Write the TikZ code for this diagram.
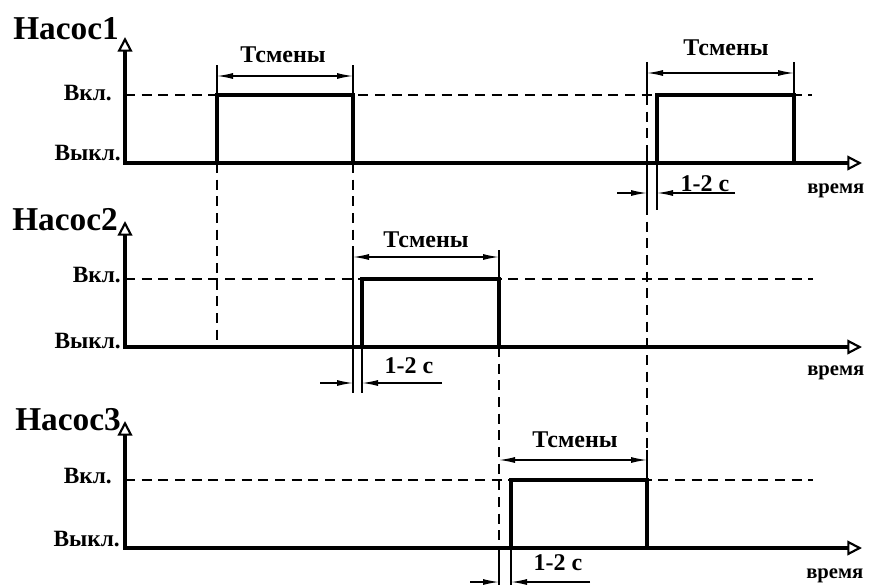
\documentclass[tikz,border=0pt]{standalone}
\usepackage{fontspec}
\setmainfont{Liberation Serif}
\usetikzlibrary{arrows.meta}
\begin{document}
\begin{tikzpicture}[x=0.75pt,y=-0.75pt,
 axis/.style={line width=2.5pt,{Triangle[open,length=11pt,width=11pt,line width=1.6pt]}-{Triangle[open,length=11pt,width=11pt,line width=1.6pt]}},
 pulse/.style={line width=2.5pt,line join=miter},
 guide/.style={line width=1.2pt,dash pattern=on 7.5pt off 5pt},
 ext/.style={line width=1pt},
 dimarrow/.style={line width=1pt,{Latex[length=12pt,width=4.5pt]}-{Latex[length=12pt,width=4.5pt]}},
 tipline/.style={line width=1pt,-{Latex[length=12pt,width=4.5pt]}},
 title/.style={font=\bfseries\fontsize{25}{25}\selectfont,inner sep=0pt},
 lvl/.style={font=\bfseries\fontsize{17.5}{17.5}\selectfont,inner sep=0pt},
 tm/.style={font=\bfseries\fontsize{15.5}{15.5}\selectfont,inner sep=0pt},
 tlab/.style={font=\bfseries\fontsize{18}{18}\selectfont,inner sep=0pt},
]
\useasboundingbox (0,0) rectangle (874,585);

% ---------------- Panel 1 ----------------
\coordinate (y1) at (125,37);
\coordinate (o1) at (125,163);
\coordinate (t1) at (862,163);
\draw[axis] (y1) -- (o1) -- (t1);
\coordinate (l1a) at (125,95);
\coordinate (l1b) at (812,95);
\draw[guide] (l1a) -- (l1b);
\node[title,anchor=base west] (n1) at (13,40) {Насос1};
\node[lvl,anchor=base east] (on1) at (112,100) {Вкл.};
\node[lvl,anchor=base east] (off1) at (121,160) {Выкл.};
\node[tm,anchor=base west] (tm1) at (807,193) {время};

% pulse A
\coordinate (a0) at (217,163);
\coordinate (a1) at (353,95);
\coordinate (a2) at (353,163);
\draw[pulse] (a0) |- (a1) -- (a2);
\coordinate (ae1) at (217,65);
\coordinate (ae2) at (353,65);
\draw[ext] (217,95) -- (ae1);
\draw[ext] (a1) -- (ae2);
\coordinate (ad1) at (217,76);
\coordinate (ad2) at (353,76);
\draw[dimarrow] (ad1) -- (ad2);
\node[tlab] (ta) at (283,55) {Тсмены};
\coordinate (av1) at (217,347);
\draw[guide] (a0) -- (av1);
\coordinate (bv0) at (353,250);
\coordinate (bv1) at (353,393);
\draw[guide] (a2) -- (bv0);
\draw[ext] (bv0) -- (bv1);

% pulse D
\coordinate (d0) at (657,163);
\coordinate (d1) at (794,95);
\coordinate (d2) at (794,163);
\draw[pulse] (d0) |- (d1) -- (d2);
\coordinate (de1) at (647,62);
\coordinate (de1b) at (647,95);
\coordinate (de2) at (794,62);
\draw[ext] (de1) -- (de1b);
\draw[ext] (d1) -- (de2);
\coordinate (dd1) at (647,73);
\coordinate (dd2) at (794,73);
\draw[dimarrow] (dd1) -- (dd2);
\node[tlab] (td) at (726,48) {Тсмены};
\coordinate (dx1) at (647,150);
\coordinate (dx2) at (647,205);
\coordinate (dx3) at (647,450);
\coordinate (dx4) at (647,480);
\draw[guide] (de1b) -- (dx1);
\draw[ext] (dx1) -- (dx2);
\draw[guide] (dx2) -- (dx3);
\draw[ext] (dx3) -- (dx4);
\coordinate (dl) at (657,210);
\draw[ext] (d0) -- (dl);
\coordinate (dsa) at (617,193);
\coordinate (dsb) at (647,193);
\coordinate (dsc) at (735,193);
\coordinate (dsd) at (657,193);
\draw[tipline] (dsa) -- (dsb);
\draw[tipline] (dsc) -- (dsd);
\node[tlab] (sd) at (705,184) {1-2 с};

% ---------------- Panel 2 ----------------
\coordinate (y2) at (125,221);
\coordinate (o2) at (125,347);
\coordinate (t2) at (862,347);
\draw[axis] (y2) -- (o2) -- (t2);
\coordinate (l2a) at (125,279);
\coordinate (l2b) at (813,279);
\draw[guide] (l2a) -- (l2b);
\node[title,anchor=base west] (n2) at (12,230) {Насос2};
\node[lvl,anchor=base east] (on2) at (121,282) {Вкл.};
\node[lvl,anchor=base east] (off2) at (121,348) {Выкл.};
\node[tm,anchor=base west] (tm2) at (807,375) {время};

% pulse B
\coordinate (b0) at (362,347);
\coordinate (b1) at (499,279);
\coordinate (b2) at (499,347);
\draw[pulse] (b0) |- (b1) -- (b2);
\coordinate (be2) at (499,250);
\draw[ext] (b1) -- (be2);
\coordinate (bd1) at (353,257);
\coordinate (bd2) at (499,257);
\draw[dimarrow] (bd1) -- (bd2);
\node[tlab] (tb) at (426,240) {Тсмены};
\coordinate (bl) at (362,393);
\draw[ext] (b0) -- (bl);
\coordinate (bsa) at (320,383);
\coordinate (bsb) at (353,383);
\coordinate (bsc) at (442,383);
\coordinate (bsd) at (362,383);
\draw[tipline] (bsa) -- (bsb);
\draw[tipline] (bsc) -- (bsd);
\node[tlab] (sb) at (409,366) {1-2 с};
\coordinate (cv0) at (499,555);
\coordinate (cv1) at (499,586);
\draw[guide] (b2) -- (cv0);
\draw[ext] (cv0) -- (cv1);

% ---------------- Panel 3 ----------------
\coordinate (y3) at (125,421);
\coordinate (o3) at (125,548);
\coordinate (t3) at (862,548);
\draw[axis] (y3) -- (o3) -- (t3);
\coordinate (l3a) at (125,480);
\coordinate (l3b) at (813,480);
\draw[guide] (l3a) -- (l3b);
\node[title,anchor=base west] (n3) at (15,430) {Насос3};
\node[lvl,anchor=base east] (on3) at (112,483) {Вкл.};
\node[lvl,anchor=base east] (off3) at (120,546) {Выкл.};
\node[tm,anchor=base west] (tm3) at (806,578) {время};

% pulse C
\coordinate (c0) at (511,548);
\coordinate (c1) at (647,480);
\coordinate (c2) at (647,548);
\draw[pulse] (c0) |- (c1) -- (c2);
\coordinate (cd1) at (499,460);
\coordinate (cd2) at (647,460);
\draw[dimarrow] (cd1) -- (cd2);
\node[tlab] (tc) at (575,440) {Тсмены};
\coordinate (cl) at (511,586);
\draw[ext] (c0) -- (cl);
\coordinate (csa) at (470,582);
\coordinate (csb) at (499,582);
\coordinate (csc) at (590,582);
\coordinate (csd) at (511,582);
\draw[tipline] (csa) -- (csb);
\draw[tipline] (csc) -- (csd);
\node[tlab] (sc) at (558,563) {1-2 с};
\end{tikzpicture}
\end{document}
